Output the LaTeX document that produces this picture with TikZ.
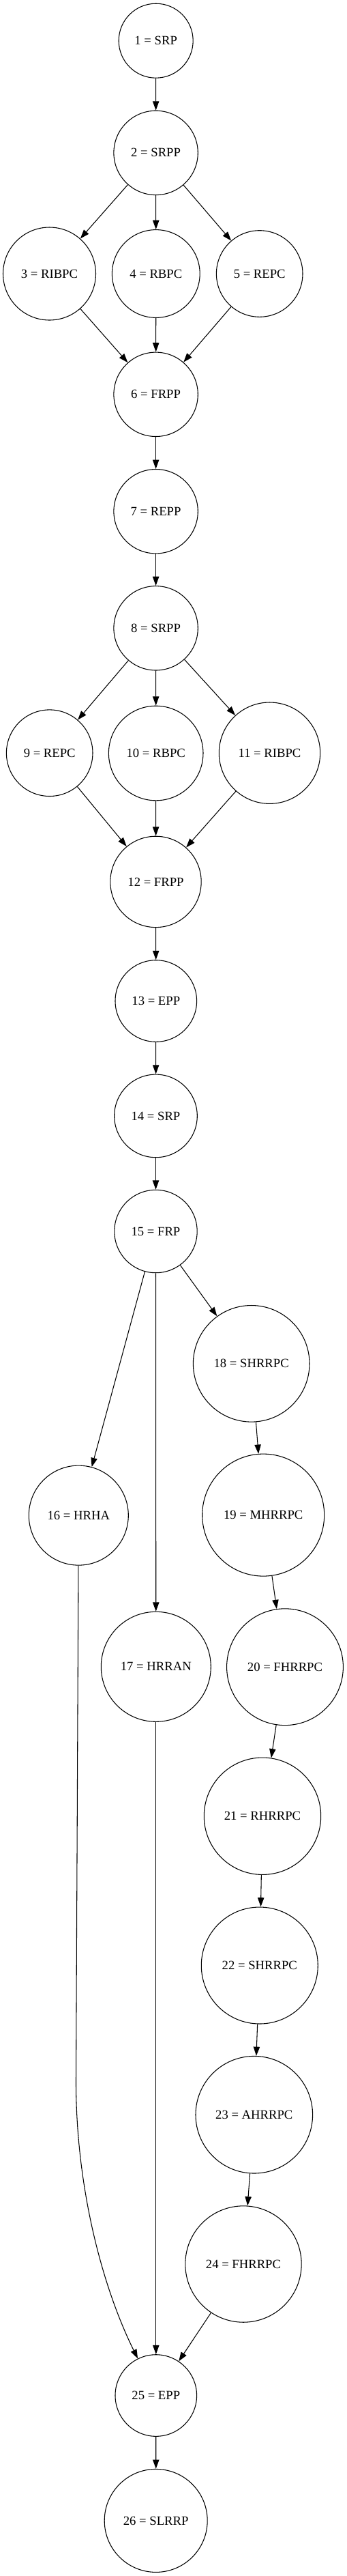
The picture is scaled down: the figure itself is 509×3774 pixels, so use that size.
\documentclass[tikz,border=0pt]{standalone}
\usepackage{fontspec}
\setmainfont{Liberation Serif}
\usetikzlibrary{arrows.meta}
\begin{document}
\begin{tikzpicture}[x=0.75pt,y=-0.75pt,
  nd/.style={circle,draw,inner sep=0pt,line width=0.8pt,font=\fontsize{14}{16}\selectfont,minimum size=#1},
  edge/.style={line width=0.8pt,-{Triangle[length=10pt,width=7pt]}}]
\useasboundingbox (0,0) rectangle (509,3774);
\node[nd=81.75pt]  (n1)  at (228.7,59.7)   {1 = SRP};
\node[nd=92.55pt]  (n2)  at (228.6,223.9)  {2 = SRPP};
\node[nd=102pt]    (n3)  at (72.5,401)     {3 = RIBPC};
\node[nd=96.6pt]   (n4)  at (228.8,401)    {4 = RBPC};
\node[nd=94.95pt]  (n5)  at (380.7,401)    {5 = REPC};
\node[nd=92.55pt]  (n6)  at (228.6,577.8)  {6 = FRPP};
\node[nd=92.55pt]  (n7)  at (228.6,749.2)  {7 = REPP};
\node[nd=92.55pt]  (n8)  at (228.6,920.3)  {8 = SRPP};
\node[nd=94.95pt]  (n9)  at (72.7,1103.2)  {9 = REPC};
\node[nd=103.95pt] (n10) at (228.7,1103.5) {10 = RBPC};
\node[nd=111.3pt]  (n11) at (395.5,1103.2) {11 = RIBPC};
\node[nd=100.05pt] (n12) at (228.5,1291.9) {12 = FRPP};
\node[nd=89.7pt]   (n13) at (228.8,1466.5) {13 = EPP};
\node[nd=91.2pt]   (n14) at (228.5,1634.9) {14 = SRP};
\node[nd=91.05pt]  (n15) at (228.5,1804)   {15 = FRP};
\node[nd=109.5pt]  (n16) at (115.3,2220.1) {16 = HRHA};
\node[nd=120.75pt] (n17) at (228.8,2441.8) {17 = HRRAN};
\node[nd=127.95pt] (n18) at (368.7,1997.8) {18 = SHRRPC};
\node[nd=134.25pt] (n19) at (386.2,2219.6) {19 = MHRRPC};
\node[nd=128.1pt]  (n20) at (418,2442.2)   {20 = FHRRPC};
\node[nd=128.55pt] (n21) at (385,2660.7)   {21 = RHRRPC};
\node[nd=128.25pt] (n22) at (380.8,2879.5) {22 = SHRRPC};
\node[nd=128.7pt]  (n23) at (372.8,3098.2) {23 = AHRRPC};
\node[nd=127.8pt]  (n24) at (357,3317)     {24 = FHRRPC};
\node[nd=89.7pt]   (n25) at (228.8,3509.5) {25 = EPP};
\node[nd=113.25pt] (n26) at (228.7,3692.9) {26 = SLRRP};
\coordinate (k16) at (111.5,3050);
\draw[edge] (n1) -- (n2);
\draw[edge] (n2) -- (n3);
\draw[edge] (n2) -- (n4);
\draw[edge] (n2) -- (n5);
\draw[edge] (n3) -- (n6);
\draw[edge] (n4) -- (n6);
\draw[edge] (n5) -- (n6);
\draw[edge] (n6) -- (n7);
\draw[edge] (n7) -- (n8);
\draw[edge] (n8) -- (n9);
\draw[edge] (n8) -- (n10);
\draw[edge] (n8) -- (n11);
\draw[edge] (n9) -- (n12);
\draw[edge] (n10) -- (n12);
\draw[edge] (n11) -- (n12);
\draw[edge] (n12) -- (n13);
\draw[edge] (n13) -- (n14);
\draw[edge] (n14) -- (n15);
\draw[edge] (n15) -- (n16);
\draw[edge] (n15) -- (n17);
\draw[edge] (n15) -- (n18);
\draw[edge] (n18) -- (n19);
\draw[edge] (n19) -- (n20);
\draw[edge] (n20) -- (n21);
\draw[edge] (n21) -- (n22);
\draw[edge] (n22) -- (n23);
\draw[edge] (n23) -- (n24);
\draw[edge] (n16) -- (k16) .. controls (111.5,3200) and (148,3346) .. (n25);
\draw[edge] (n17) -- (n25);
\draw[edge] (n24) -- (n25);
\draw[edge] (n25) -- (n26);
\end{tikzpicture}
\end{document}
